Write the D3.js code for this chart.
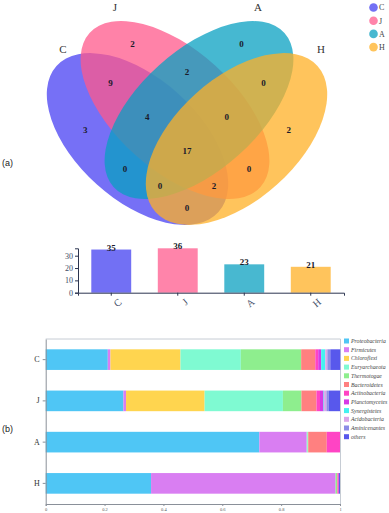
<!DOCTYPE html>
<html>
<head>
<meta charset="utf-8">
<style>
    body {
        margin: 0;
        background-color: #FFF;
    }
    svg text {
        font-family: "Liberation Serif", "Times New Roman", serif;
    }
</style>
</head>
<body>
<div id="chartArea"></div>
<script src="https://d3js.org/d3.v7.min.js"></script>
<script>
    /* -----------------------------------
        data
    ----------------------------------- */
    var setNames = ["C", "J", "A", "H"];
    var setColors = ["#7270f4", "#ff84aa", "#48b8d0", "#ffc45c"];

    // venn region -> shared count
    var regionKeys   = ["C", "J", "A", "H", "CJ", "JA", "AH", "CJA", "JAH", "CJAH", "CA", "JH", "CAH", "CJH", "CH"];
    var regionCounts = [3,   2,   0,   2,   9,    2,    0,    4,     0,     17,     0,    0,    0,     2,     0];

    var setTotals = [35, 36, 23, 21];
    var totalTicks = [0, 10, 20, 30];

    var samples = ["C", "J", "A", "H"];
    var phyla = ["Proteobacteria", "Firmicutes", "Chloroflexi", "Euryarchaeota", "Thermotogae", "Bacteroidetes",
                 "Actinobacteria", "Planctomycetes", "Synergistetes", "Acidobacteria", "Aminicenantes", "others"];
    var phylaColors = ["#4fc6f5", "#d97ef2", "#ffd54f", "#7ffad2", "#8eee8e", "#ff8080",
                       "#ff44c4", "#d63ae6", "#44f2f0", "#dba6e8", "#8c8ce6", "#5858ec"];

    // relative abundance, order = samples
    var proteobacteria = [0.211, 0.264, 0.726, 0.358];
    var firmicutes     = [0.009, 0.009, 0.161, 0.627];
    var chloroflexi    = [0.238, 0.267, 0.000, 0.000];
    var euryarchaeota  = [0.205, 0.266, 0.003, 0.000];
    var thermotogae    = [0.205, 0.063, 0.002, 0.005];
    var bacteroidetes  = [0.048, 0.051, 0.063, 0.002];
    var actinobacteria = [0.010, 0.012, 0.045, 0.004];
    var planctomycetes = [0.010, 0.012, 0.000, 0.000];
    var synergistetes  = [0.014, 0.002, 0.000, 0.000];
    var acidobacteria  = [0.007, 0.008, 0.000, 0.000];
    var aminicenantes  = [0.010, 0.008, 0.000, 0.000];
    var others         = [0.034, 0.038, 0.000, 0.004];
    var fractionTicks = [0, 0.2, 0.4, 0.6, 0.8, 1];

    /* -----------------------------------
        initialize
    ----------------------------------- */
    var width = 389, height = 513;

    var svg = d3.select("#chartArea").append("svg")
        .attr("width", width)
        .attr("height", height);

    /* -----------------------------------
        (a) venn
    ----------------------------------- */
    var vennShapes = [
        {cx: 137.5, cy: 139, rx: 109, ry: 61, rot: 42,  fill: "#4840f3"},
        {cx: 175,   cy: 110, rx: 115, ry: 60, rot: 42,  fill: "#ff588b"},
        {cx: 199,   cy: 110, rx: 115, ry: 60, rot: -42, fill: "#08a0c1"},
        {cx: 236.5, cy: 139, rx: 109, ry: 61, rot: -42, fill: "#ffb026"}
    ];

    svg.append("g").selectAll("ellipse").data(vennShapes).enter()
        .append("ellipse")
        .attr("cx", function(d) { return d.cx; })
        .attr("cy", function(d) { return d.cy; })
        .attr("rx", function(d) { return d.rx; })
        .attr("ry", function(d) { return d.ry; })
        .attr("transform", function(d) { return "rotate(" + d.rot + "," + d.cx + "," + d.cy + ")"; })
        .style("fill", function(d) { return d.fill; })
        .style("fill-opacity", 0.75);

    // distance of a point to an ellipse edge (first order)
    function edgeDist(e, x, y) {
        var a = e.rot * Math.PI / 180, dx = x - e.cx, dy = y - e.cy;
        var u = dx * Math.cos(a) + dy * Math.sin(a);
        var v = -dx * Math.sin(a) + dy * Math.cos(a);
        var q = (u * u) / (e.rx * e.rx) + (v * v) / (e.ry * e.ry);
        var g = 2 * Math.sqrt(Math.pow(u / (e.rx * e.rx), 2) + Math.pow(v / (e.ry * e.ry), 2));
        return {inside: q < 1, d: g < 1e-6 ? e.ry : Math.abs(q - 1) / g};
    }
    function probe(x, y) {
        var key = "", m = Infinity;
        vennShapes.forEach(function(e, i) {
            var r = edgeDist(e, x, y);
            if (r.inside) key += setNames[i];
            m = Math.min(m, r.d);
        });
        return {key: key, d: m};
    }

    // centroid of each region, falling back to its most open spot
    var acc = {};
    for (var py = 0; py < 240; py++) {
        for (var px = 30; px < 345; px++) {
            var p = probe(px, py);
            if (!p.key) continue;
            var a = acc[p.key] || (acc[p.key] = {sx: 0, sy: 0, n: 0, best: null});
            a.sx += px; a.sy += py; a.n++;
            if (!a.best || p.d > a.best.d) a.best = {x: px, y: py, d: p.d};
        }
    }
    var spots = {};
    Object.keys(acc).forEach(function(k) {
        var a = acc[k], mx = a.sx / a.n, my = a.sy / a.n, c = probe(mx, my);
        spots[k] = (c.key === k && c.d >= 4) ? {x: mx, y: my} : a.best;
    });

    svg.append("g").selectAll("text").data(regionKeys).enter()
        .append("text")
        .attr("x", function(d) { return spots[d] ? spots[d].x : 0; })
        .attr("y", function(d) { return spots[d] ? spots[d].y : 0; })
        .attr("dy", "0.35em")
        .attr("text-anchor", "middle")
        .style("font-size", "9px")
        .style("font-weight", "bold")
        .style("fill", "#1a1a2a")
        .text(function(d, i) { return regionCounts[i]; });

    var setLabelPos = [[63, 49], [115, 7], [258, 7], [321, 49]];
    svg.append("g").selectAll("text").data(setNames).enter()
        .append("text")
        .attr("x", function(d, i) { return setLabelPos[i][0]; })
        .attr("y", function(d, i) { return setLabelPos[i][1]; })
        .attr("dy", "0.35em")
        .attr("text-anchor", "middle")
        .style("font-size", "11px")
        .style("fill", "#333")
        .text(function(d) { return d; });

    // legend
    var vLegend = svg.append("g").attr("transform", "translate(373.5,7.5)");
    var vItem = vLegend.selectAll("g").data(setNames).enter()
        .append("g")
        .attr("transform", function(d, i) { return "translate(0," + (i * 13.2) + ")"; });
    vItem.append("circle").attr("r", 4.3).style("fill", function(d, i) { return setColors[i]; });
    vItem.append("text").attr("x", 5.5).attr("dy", "0.35em")
        .style("font-size", "8px").style("fill", "#444")
        .text(function(d) { return d; });

    svg.append("text").attr("x", 2).attr("y", 163).attr("dy", "0.35em")
        .style("font-family", "Liberation Sans, Arial, sans-serif")
        .style("font-size", "9px").style("fill", "#222")
        .text("(a)");

    /* -----------------------------------
        (a) totals bar chart
    ----------------------------------- */
    var xSet = d3.scaleBand().domain(setNames).range([78, 344]).paddingInner(0.4).paddingOuter(0.2);
    var yTot = d3.scaleLinear().domain([0, 36]).range([292.7, 248.3]);

    svg.append("g").selectAll("rect").data(setTotals).enter()
        .append("rect")
        .attr("x", function(d, i) { return xSet(setNames[i]); })
        .attr("y", function(d) { return yTot(d); })
        .attr("width", xSet.bandwidth())
        .attr("height", function(d) { return yTot(0) - yTot(d); })
        .style("fill", function(d, i) { return setColors[i]; });

    svg.append("g").selectAll("text").data(setTotals).enter()
        .append("text")
        .attr("x", function(d, i) { return xSet(setNames[i]) + xSet.bandwidth() / 2; })
        .attr("y", function(d) { return yTot(d) + 1; })
        .attr("text-anchor", "middle")
        .style("font-size", "9px")
        .style("font-weight", "bold")
        .style("fill", "#1a1a2a")
        .text(function(d) { return d; });

    var totAxisY = svg.append("g").attr("transform", "translate(78,0)")
        .call(d3.axisLeft(yTot).tickValues(totalTicks).tickSize(3).tickPadding(2));
    var totAxisX = svg.append("g").attr("transform", "translate(0,292.7)")
        .call(d3.axisBottom(xSet).tickSize(3).tickPadding(2));
    [totAxisY, totAxisX].forEach(function(ax) {
        ax.selectAll("path, line").style("stroke", "#2c3550");
        ax.selectAll("text").style("font-size", "8px").style("fill", "#3c4a66")
            .style("font-family", "Liberation Serif, serif");
    });
    totAxisX.selectAll("text")
        .style("font-size", "10px")
        .attr("text-anchor", "end")
        .attr("transform", "translate(4,2) rotate(-40)")
        .attr("dy", "0.6em");

    /* -----------------------------------
        (b) stacked composition
    ----------------------------------- */
    var phylaValues = [proteobacteria, firmicutes, chloroflexi, euryarchaeota, thermotogae, bacteroidetes,
                       actinobacteria, planctomycetes, synergistetes, acidobacteria, aminicenantes, others];
    var table = samples.map(function(s, i) {
        var row = {sample: s};
        phyla.forEach(function(p, j) { row[p] = phylaValues[j][i]; });
        return row;
    });
    var series = d3.stack().keys(phyla)(table);

    var xFrac = d3.scaleLinear().domain([0, 1]).range([45.7, 340]);
    var ySamp = d3.scaleBand().domain(samples).range([339, 504]).paddingInner(0.5).paddingOuter(0.25);

    // frame
    svg.append("line").attr("x1", 45.7).attr("x2", 340.5).attr("y1", 339).attr("y2", 339)
        .style("stroke", "#c6ccd4");
    svg.append("line").attr("x1", 340.5).attr("x2", 340.5).attr("y1", 339).attr("y2", 504)
        .style("stroke", "#c6ccd4");

    svg.append("g").selectAll("g").data(series).enter()
        .append("g")
        .style("fill", function(d, i) { return phylaColors[i]; })
        .selectAll("rect").data(function(d) { return d; }).enter()
        .append("rect")
        .attr("x", function(d) { return xFrac(d[0]); })
        .attr("y", function(d) { return ySamp(d.data.sample); })
        .attr("width", function(d) { return Math.max(0, xFrac(d[1]) - xFrac(d[0])); })
        .attr("height", ySamp.bandwidth());

    var fracAxisY = svg.append("g").attr("transform", "translate(45.7,0)")
        .call(d3.axisLeft(ySamp).tickSize(3).tickPadding(3).tickSizeOuter(0));
    fracAxisY.selectAll("path, line").style("stroke", "#8a9099");
    fracAxisY.selectAll("text").style("font-size", "8px").style("fill", "#333");

    var fracAxisX = svg.append("g").attr("transform", "translate(0,504)")
        .call(d3.axisBottom(xFrac).tickValues(fractionTicks).tickFormat(d3.format("")).tickSize(2).tickPadding(2));
    fracAxisX.selectAll("path, line").style("stroke", "#8a9099");
    fracAxisX.selectAll("text").style("font-size", "4.5px").style("fill", "#555");

    // legend
    var bLegend = svg.append("g").attr("transform", "translate(344,341)");
    var bItem = bLegend.selectAll("g").data(phyla).enter()
        .append("g")
        .attr("transform", function(d, i) { return "translate(0," + (i * 8.7) + ")"; });
    bItem.append("rect").attr("y", -2.5).attr("width", 5).attr("height", 5)
        .style("fill", function(d, i) { return phylaColors[i]; });
    bItem.append("text").attr("x", 7).attr("dy", "0.35em")
        .style("font-size", "5.8px").style("font-style", "italic").style("fill", "#444")
        .text(function(d) { return d; });

    svg.append("text").attr("x", 2).attr("y", 429).attr("dy", "0.35em")
        .style("font-family", "Liberation Sans, Arial, sans-serif")
        .style("font-size", "9px").style("fill", "#222")
        .text("(b)");
</script>
</body>
</html>
